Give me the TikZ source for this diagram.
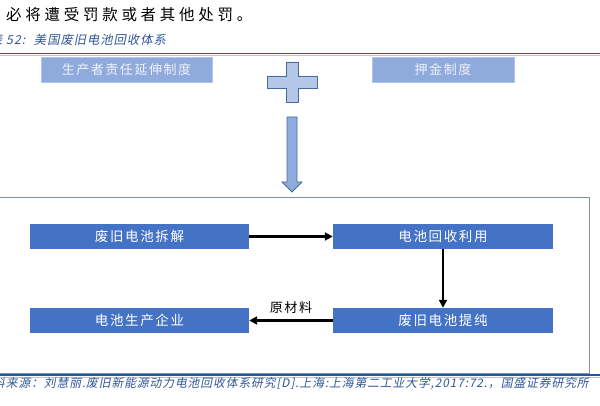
\documentclass[tikz,border=0pt]{standalone}
\usepackage{fontspec}
\setmainfont{Liberation Serif}
\newfontfamily\cjk{Noto Sans CJK SC}[LetterSpace=12]
\newfontfamily\cjkbody{Noto Sans CJK SC}[LetterSpace=24]
\newfontfamily\cjkslant{Noto Sans CJK SC}[FakeSlant=0.2,LetterSpace=8]
\usetikzlibrary{arrows.meta,positioning}

\definecolor{ruleblue}{HTML}{2156A5}
\definecolor{lightbox}{HTML}{8FAADC}
\definecolor{darkbox}{HTML}{4472C4}
\definecolor{plusfill}{HTML}{B4C7E7}
\definecolor{plusedge}{HTML}{4A6A9C}
\definecolor{framegray}{HTML}{8190A8}
\definecolor{captionblue}{HTML}{2F5597}

\begin{document}
\begin{tikzpicture}[x=1pt, y=-1pt,
    toptag/.style={fill=lightbox, draw=lightbox!70!white, minimum height=25pt,
      inner sep=0pt, text=white!85!lightbox, font=\cjk\fontsize{13}{13}\selectfont},
    stagebox/.style={fill=darkbox, minimum width=220pt, minimum height=25pt,
      inner sep=0pt, text=white, font=\cjk\fontsize{13.5}{13.5}\selectfont},
    flow/.style={-{Triangle[length=8pt,width=8pt]}, line width=2.2pt},
    blockpart/.style={fill=plusfill, draw=plusedge, line width=0.8pt}]
    \useasboundingbox (0,0) rectangle (600,406);
    % page text above the figure
    \node[anchor=west, inner sep=0pt, font=\cjkbody\fontsize{15.5}{15.5}\selectfont]
      (notice) at (6,15) {必将遭受罚款或者其他处罚。};
    \node[anchor=west, inner sep=0pt, text=captionblue,
      font=\cjkslant\fontsize{12.3}{12.3}\selectfont]
      (caption) at (-10,40) {表 52: \ 美国废旧电池回收体系};
    \draw[ruleblue, line width=1.6pt] (0,53.5) -- (600,53.5);
    \draw[ruleblue!35, line width=0.5pt] (0,55.4) -- (600,55.4);
    % two systems
    \node[toptag, minimum width=171pt] (epr) at (126.5,69.5) {生产者责任延伸制度};
    \node[toptag, minimum width=142pt] (deposit) at (443,69.5) {押金制度};
    \draw[blockpart] (286,62) -- (298,62) -- (298,76) -- (317,76) -- (317,88)
      -- (298,88) -- (298,102) -- (286,102) -- (286,88) -- (267,88)
      -- (267,76) -- (286,76) -- cycle;
    \draw[blockpart, fill=lightbox] (287,117) -- (297,117) -- (297,182)
      -- (302,182) -- (292,192) -- (282,182) -- (287,182) -- cycle;
    % recycling loop
    \draw[framegray, line width=0.8pt] (-2,197) rectangle (589,373);
    \node[stagebox, minimum width=219pt] (dismantle) at (139.5,236.5) {废旧电池拆解};
    \node[stagebox] (reuse) at (443,236.5) {电池回收利用};
    \node[stagebox, minimum width=219pt] (maker) at (139.5,320.5) {电池生产企业};
    \node[stagebox] (purify) at (443,320.5) {废旧电池提纯};
    \draw[flow] (dismantle) -- (reuse);
    \draw[flow] (reuse) -- (purify);
    \draw[flow] (purify) -- node[above=3pt, font=\cjk\fontsize{13}{13}\selectfont] (material) {原材料} (maker);
    % source line
    \draw[ruleblue, line width=1.6pt] (0,375) -- (600,375);
    \draw[ruleblue!35, line width=0.5pt] (0,376.9) -- (600,376.9);
    \node[anchor=west, inner sep=0pt, text=captionblue,
      font=\cjkslant\fontsize{11.75}{11.75}\selectfont]
      (source) at (-7,384) {料来源：刘慧丽.废旧新能源动力电池回收体系研究[D].上海:上海第二工业大学,2017:72.，国盛证券研究所};
\end{tikzpicture}
\end{document}
